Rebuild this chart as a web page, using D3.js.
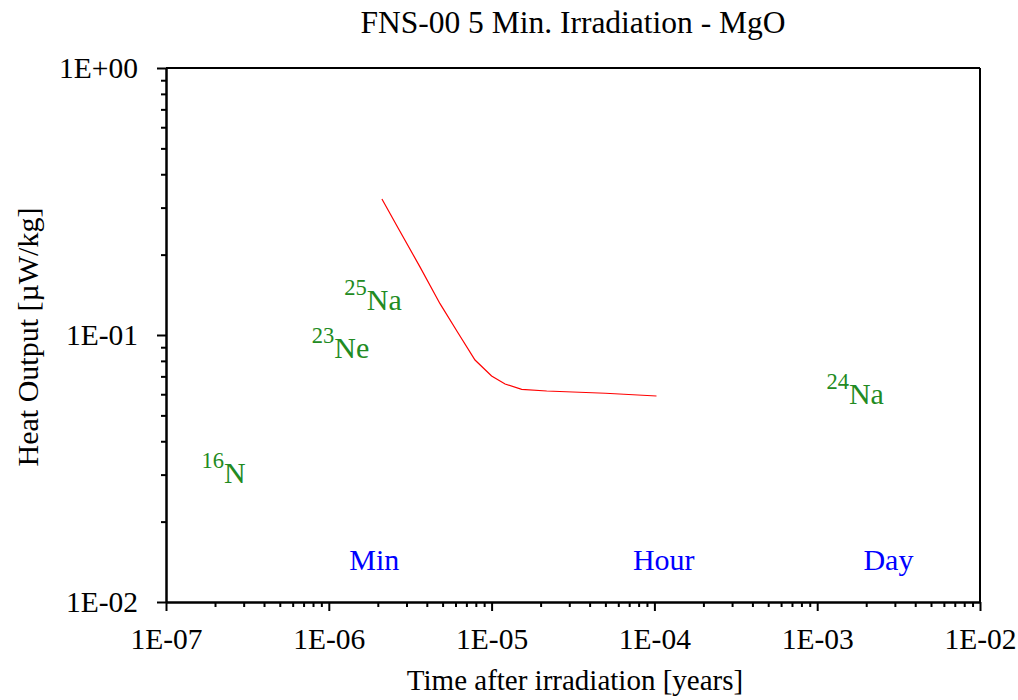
<!DOCTYPE html>
<html><head><meta charset="utf-8">
<script src="https://cdn.jsdelivr.net/npm/d3@7"></script>
<style>body{margin:0;background:#fff}svg{display:block}text{font-family:"Liberation Serif","Times New Roman",serif}</style>
</head><body><svg id="c" width="1018" height="700"></svg>
<script>
// Heat output curve (time in years, heat in µW/kg)
const times = [2.12e-6, 2.67e-6, 3.63e-6, 4.82e-6, 6.24e-6, 7.91e-6, 1.0e-5, 1.21e-5, 1.53e-5, 2.18e-5, 5.0e-5, 1.03e-4];
const heat  = [0.323, 0.251, 0.180, 0.131, 0.1015, 0.0806, 0.0702, 0.0655, 0.0626, 0.0617, 0.0605, 0.0591];
// Nuclide labels placed at half-life (years)
const nucMass = ["16", "23", "25", "24"];
const nucSym  = ["N", "Ne", "Na", "Na"];
const nucTime = [2.26e-7, 1.18e-6, 1.87e-6, 1.71e-3];
const nucVal  = [0.0279, 0.082, 0.124, 0.0552];
// Time markers
const markNames = ["Min", "Hour", "Day"];
const markTimes = [1/525960, 1/8766, 1/365.25];
const markVal = 0.0132;
// Tick values
const xTicks = [1e-7, 1e-6, 1e-5, 1e-4, 1e-3, 1e-2];
const xTickLabels = ["1E-07", "1E-06", "1E-05", "1E-04", "1E-03", "1E-02"];
const yTicks = [1e-2, 1e-1, 1];
const yTickLabels = ["1E-02", "1E-01", "1E+00"];

const L = 166, R = 980, T = 68, B = 602;
const svg = d3.select("#c");
const x = d3.scaleLog().domain([1e-7, 1e-2]).range([L, R]);
const y = d3.scaleLog().domain([1e-2, 1]).range([B, T]);

const minors = (lo, hi) => { const a = []; for (let e = lo; e < hi; e++) for (let k = 2; k <= 9; k++) a.push(k * Math.pow(10, e)); return a; };

// frame top/right
svg.append("line").attr("x1", L).attr("x2", R).attr("y1", T).attr("y2", T).attr("stroke", "#000").attr("stroke-width", 2);
svg.append("line").attr("x1", R).attr("x2", R).attr("y1", T).attr("y2", B).attr("stroke", "#000").attr("stroke-width", 2);

// x axis
const gx = svg.append("g").attr("transform", `translate(0,${B})`);
gx.call(d3.axisBottom(x).tickValues(minors(-7, -2)).tickSize(5).tickSizeOuter(0).tickFormat(""));
gx.append("g").call(d3.axisBottom(x).tickValues(xTicks).tickSize(9).tickSizeOuter(0).tickFormat((d, i) => xTickLabels[i]).tickPadding(17));
gx.selectAll(".domain").attr("stroke-width", 2);
gx.selectAll("line").attr("stroke-width", 2);
gx.selectAll("text").attr("font-size", 29.5).attr("fill", "#000").attr("font-family", "Liberation Serif");

// y axis
const gy = svg.append("g").attr("transform", `translate(${L},0)`);
gy.call(d3.axisLeft(y).tickValues(minors(-2, 0)).tickSize(5).tickSizeOuter(0).tickFormat(""));
gy.append("g").call(d3.axisLeft(y).tickValues(yTicks).tickSize(9).tickSizeOuter(0).tickFormat((d, i) => yTickLabels[i]).tickPadding(19));
gy.selectAll(".domain").attr("stroke-width", 2);
gy.selectAll("line").attr("stroke-width", 2);
gy.selectAll("text").attr("font-size", 29.5).attr("fill", "#000").attr("font-family", "Liberation Serif");

// curve
const line = d3.line().x((d, i) => x(times[i])).y((d, i) => y(heat[i]));
svg.append("path").datum(times).attr("d", line).attr("fill", "none").attr("stroke", "#ff0000").attr("stroke-width", 1.2);

// nuclide labels
nucSym.forEach((s, i) => {
  const t = svg.append("text").attr("x", x(nucTime[i])).attr("y", y(nucVal[i])).attr("text-anchor", "middle").attr("fill", "#228B22");
  t.append("tspan").attr("font-size", 22.5).attr("dy", -15).text(nucMass[i]);
  t.append("tspan").attr("font-size", 30).attr("dy", 15).text(s);
});

// time markers
markNames.forEach((m, i) => {
  svg.append("text").attr("x", x(markTimes[i])).attr("y", y(markVal)).attr("text-anchor", "middle").attr("fill", "#0000ff").attr("font-size", 30).text(m);
});

// titles
svg.append("text").attr("x", 573).attr("y", 33).attr("text-anchor", "middle").attr("font-size", 31.5).attr("fill", "#000").text("FNS-00 5 Min. Irradiation - MgO");
svg.append("text").attr("x", 575).attr("y", 690).attr("text-anchor", "middle").attr("font-size", 29).attr("fill", "#000").text("Time after irradiation [years]");
svg.append("text").attr("transform", `translate(38,${(T + B) / 2 + 2}) rotate(-90)`).attr("text-anchor", "middle").attr("font-size", 30).attr("fill", "#000").text("Heat Output [µW/kg]");
</script></body></html>
